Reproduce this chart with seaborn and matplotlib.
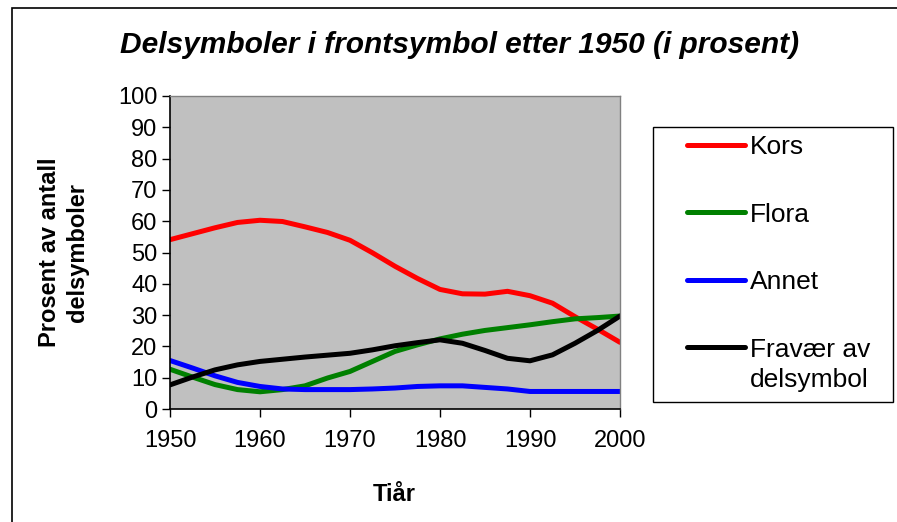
import matplotlib
matplotlib.use("Agg")
from matplotlib import pyplot as plt
from matplotlib.patches import Rectangle
import pandas as pd
import seaborn as sns

years = [1950, 1952.5, 1955, 1957.5, 1960, 1962.5, 1965, 1967.5, 1970, 1972.5,
         1975, 1977.5, 1980, 1982.5, 1985, 1987.5, 1990, 1992.5, 1995, 1997.5, 2000]
kors = [54.1, 56.0, 57.9, 59.6, 60.3, 59.9, 58.2, 56.4, 53.9, 49.9,
        45.6, 41.7, 38.2, 36.8, 36.7, 37.6, 36.2, 33.8, 29.5, 25.5, 21.3]
flora = [12.7, 10.2, 7.8, 6.2, 5.5, 6.2, 7.4, 9.9, 12.0, 15.2,
         18.4, 20.5, 22.4, 23.9, 25.1, 26.0, 26.9, 27.9, 28.8, 29.2, 29.7]
annet = [15.5, 13.1, 10.6, 8.5, 7.2, 6.4, 6.2, 6.2, 6.2, 6.4,
         6.7, 7.2, 7.4, 7.4, 6.9, 6.4, 5.6, 5.6, 5.6, 5.6, 5.6]
fravaer = [7.7, 10.2, 12.5, 14.1, 15.2, 15.9, 16.6, 17.2, 17.8, 18.9,
           20.2, 21.2, 22.1, 21.0, 18.7, 16.2, 15.4, 17.3, 21.0, 25.1, 29.7]
series_names = ['Kors', 'Flora', 'Annet', 'Fravær av']
colors = ['#FF0000', '#008000', '#0000FF', '#000000']
x_ticks = [1950, 1960, 1970, 1980, 1990, 2000]
y_ticks = list(range(0, 101, 10))

df = pd.DataFrame({'year': years * 4,
                   'value': kors + flora + annet + fravaer,
                   'serie': [n for n in series_names for _ in years]})

sns.set_style('white')
plt.rcParams['font.family'] = ['Liberation Sans', 'DejaVu Sans']
plt.rcParams['text.color'] = 'black'
plt.rcParams['axes.labelcolor'] = 'black'
plt.rcParams['xtick.color'] = 'black'
plt.rcParams['ytick.color'] = 'black'

fig = plt.figure(figsize=(8.97, 5.22), dpi=100)
ax = fig.add_axes([170/897, 1-409/522, 450/897, 313/522])
sns.lineplot(data=df, x='year', y='value', hue='serie', palette=colors,
             linewidth=3.6, ax=ax, legend=True, solid_capstyle='round',
             solid_joinstyle='round')
ax.set_facecolor('#C0C0C0')
ax.set_xlim(1950, 2000)
ax.set_ylim(0, 100)
ax.set_xticks(x_ticks)
ax.set_yticks(y_ticks)
ax.tick_params(axis='both', labelsize=17, direction='out', length=6, width=1,
               color='black', left=True, bottom=True, pad=3)
ax.tick_params(axis='x', pad=9)
for side in ['left', 'bottom']:
    ax.spines[side].set_color('black')
    ax.spines[side].set_linewidth(1.2)
for side in ['top', 'right']:
    ax.spines[side].set_color('#808080')
    ax.spines[side].set_linewidth(1)
ax.set_xlabel('Tiår', fontsize=17, fontweight='bold')
ax.xaxis.set_label_coords((394-170)/450, -(483-409)/313)
ax.set_ylabel('Prosent av antall\ndelsymboler', fontsize=17, fontweight='bold',
              linespacing=1.3)
ax.yaxis.set_label_coords(-(170-89)/450, 0.5)

handles, labels = ax.get_legend_handles_labels()
ax.get_legend().remove()
leg = fig.legend(handles, labels, loc='upper left',
                 bbox_to_anchor=(687/897, 1-135/522),
                 frameon=False, fontsize=19, labelspacing=1.65,
                 handlelength=2.2, handletextpad=0.2, borderpad=0, borderaxespad=0)
for line in leg.get_lines():
    line.set_linewidth(3.6)
    line.set_solid_capstyle('round')
fig.text(750/897, 1-380/522, 'delsymbol', ha='left', va='center', fontsize=19)
fig.patches.append(Rectangle((653/897, 1-402/522), 240/897, 275/522,
                             transform=fig.transFigure, fill=False,
                             edgecolor='black', linewidth=1))

fig.text(460/897, 1-45/522, 'Delsymboler i frontsymbol etter 1950 (i prosent)',
         ha='center', va='center', fontsize=21.5, fontweight='bold', style='italic')
fig.patches.append(Rectangle((12/897, -0.05), 1.1, 1-8/522+0.05, transform=fig.transFigure,
                             fill=False, edgecolor='black', linewidth=1.2))

plt.savefig('out.png', dpi=100)
